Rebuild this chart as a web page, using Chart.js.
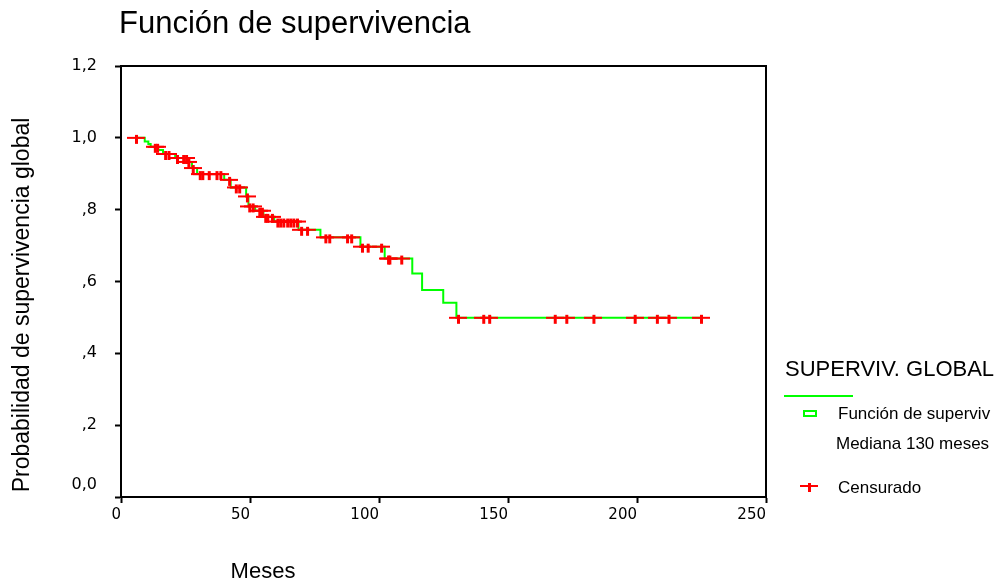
<!DOCTYPE html>
<html><head><meta charset="utf-8">
<script src="https://cdn.jsdelivr.net/npm/chart.js@4/dist/chart.umd.min.js"></script>
<style>html,body{margin:0;padding:0;background:#fff;overflow:hidden}#wrap{position:relative;width:999px;height:582px}</style>
</head><body><div id="wrap"><canvas id="c"></canvas></div>
<script>
// ---- data ----
const chartTitle = 'Función de supervivencia';
const xAxisTitle = 'Meses';
const yAxisTitle = 'Probabilidad de supervivencia global';
const legendTitle = 'SUPERVIV. GLOBAL';
const legendLabels = ['Función de superviv', 'Mediana 130 meses', 'Censurado'];

// Kaplan-Meier step function: time (months) and survival after that time
const stepTimes = [5.8, 9.2, 10.6, 11.5, 14.4, 16.3, 21.0, 25.6, 27.5, 29.5, 40.0, 42.5, 48.5, 49.4, 52.0, 55.2, 59.4, 68.8, 77.3, 92.8, 102.2, 112.9, 116.7, 124.9, 130.0, 224.8];
const stepSurvival = [1.0, 0.990, 0.983, 0.975, 0.966, 0.955, 0.944, 0.933, 0.916, 0.899, 0.883, 0.862, 0.837, 0.809, 0.797, 0.780, 0.767, 0.744, 0.723, 0.697, 0.664, 0.622, 0.576, 0.541, 0.499, 0.499];

// censored observations (months)
const censorTimes = [5.8, 13.1, 14.0, 17.1, 18.4, 21.7, 24.1, 25.2, 26.1, 27.8, 30.5, 31.5, 34.0, 37.0, 38.5, 41.9, 44.5, 45.8,
  48.8, 49.7, 51.0, 53.6, 54.6, 55.9, 56.7, 58.5, 60.6, 61.7, 62.9, 64.4, 65.6, 66.8, 68.2, 69.8, 72.1,
  79.2, 80.7, 87.6, 89.2, 93.4, 95.6, 100.8, 103.5, 104.0, 108.6,
  130.6, 140.4, 142.7, 168.1, 172.6, 183.1, 199.1, 207.7, 212.2, 224.8];

const xTicks = [0, 50, 100, 150, 200, 250];
const yTicks = [0, 0.2, 0.4, 0.6, 0.8, 1.0, 1.2];
const yTickLabels = ['0,0', ',2', ',4', ',6', ',8', '1,0', '1,2'];

// ---- build ----
function survivalAt(t) {
  let s = stepSurvival[0];
  for (let i = 0; i < stepTimes.length; i++) { if (stepTimes[i] <= t) s = stepSurvival[i]; }
  return s;
}
const curvePoints = stepTimes.map((t, i) => ({ x: t, y: stepSurvival[i] }));
const censorPoints = censorTimes.map(t => ({ x: t, y: survivalAt(t) }));

// censor mark: wide horizontal bar with a short vertical stroke reaching mostly downward
const mark = document.createElement('canvas');
mark.width = 18; mark.height = 18;
(function () {
  const g = mark.getContext('2d');
  g.fillStyle = '#ff0000';
  g.fillRect(0, 8, 18, 2);
  g.fillRect(8, 6, 3, 9);
})();

const RED = '#ff0000', GREEN = '#00ff00';

const decor = {
  id: 'decor',
  afterDraw(chart) {
    const ctx = chart.ctx, a = chart.chartArea;
    ctx.save();
    // box top and right
    ctx.strokeStyle = '#000'; ctx.lineWidth = 2;
    ctx.beginPath();
    ctx.moveTo(a.left, a.top); ctx.lineTo(a.right, a.top); ctx.lineTo(a.right, a.bottom);
    ctx.stroke();
    ctx.fillStyle = '#000';
    ctx.textBaseline = 'alphabetic';
    ctx.textAlign = 'left';
    ctx.font = '31px "Liberation Sans", Arial, sans-serif';
    ctx.fillText(chartTitle, 119, 33);
    ctx.font = '22px "Liberation Sans", Arial, sans-serif';
    ctx.textAlign = 'center';
    ctx.fillText(xAxisTitle, 263, 578);
    ctx.save();
    ctx.translate(29, 305); ctx.rotate(-Math.PI / 2);
    ctx.font = '23px "Liberation Sans", Arial, sans-serif';
    ctx.fillText(yAxisTitle, 0, 0);
    ctx.restore();
    // legend
    ctx.textAlign = 'left';
    ctx.font = '22px "Liberation Sans", Arial, sans-serif';
    ctx.fillText(legendTitle, 785, 376);
    ctx.strokeStyle = GREEN; ctx.lineWidth = 2;
    ctx.beginPath(); ctx.moveTo(784, 396); ctx.lineTo(853, 396); ctx.stroke();
    ctx.strokeRect(804, 411, 12, 5);
    ctx.fillStyle = '#000';
    ctx.font = '17px "Liberation Sans", Arial, sans-serif';
    ctx.fillText(legendLabels[0], 838, 419);
    ctx.fillText(legendLabels[1], 836, 449);
    ctx.fillText(legendLabels[2], 838, 493);
    ctx.drawImage(mark, 800, 477);
    ctx.restore();
  }
};

new Chart(document.getElementById('c'), {
  type: 'scatter',
  data: {
    datasets: [
      { label: 'Censurado', data: censorPoints, pointStyle: mark, pointRadius: 9, order: 0 },
      { label: 'Función de supervivencia', data: curvePoints, showLine: true, stepped: true,
        borderColor: GREEN, borderWidth: 2, pointRadius: 0, order: 1 }
    ]
  },
  options: {
    responsive: true, maintainAspectRatio: false, animation: false,
    devicePixelRatio: 1,
    layout: { padding: { left: 0, right: 233, top: 66, bottom: 0 } },
    plugins: { legend: { display: false }, tooltip: { enabled: false }, title: { display: false } },
    scales: {
      x: {
        type: 'linear', min: 0, max: 250,
        afterBuildTicks: s => { s.ticks = xTicks.map(v => ({ value: v })); },
        afterFit: s => { s.height = 85; },
        border: { display: true, color: '#000', width: 2 },
        grid: { display: true, drawOnChartArea: false, drawTicks: true, tickLength: 6, tickWidth: 2, tickColor: '#000' },
        ticks: { align: 'end', maxRotation: 0, autoSkip: false, padding: 3, color: '#000',
          font: { family: '"DejaVu Sans", sans-serif', size: 15 } }
      },
      y: {
        type: 'linear', min: 0, max: 1.2,
        afterBuildTicks: s => { s.ticks = yTicks.map(v => ({ value: v })); },
        afterFit: s => { s.width = 121; },
        border: { display: true, color: '#000', width: 2 },
        grid: { display: true, drawOnChartArea: false, drawTicks: true, tickLength: 6, tickWidth: 2, tickColor: '#000' },
        ticks: { padding: 18, color: '#000', autoSkip: false,
          font: { family: '"DejaVu Sans", sans-serif', size: 16, lineHeight: 1.5 },
          callback: (v) => {
            const i = yTicks.findIndex(t => Math.abs(t - v) < 1e-6);
            if (i < 0) return '';
            return i === 0 ? [yTickLabels[i], ''] : yTickLabels[i];
          } }
      }
    }
  },
  plugins: [decor]
});
</script>
</body></html>
